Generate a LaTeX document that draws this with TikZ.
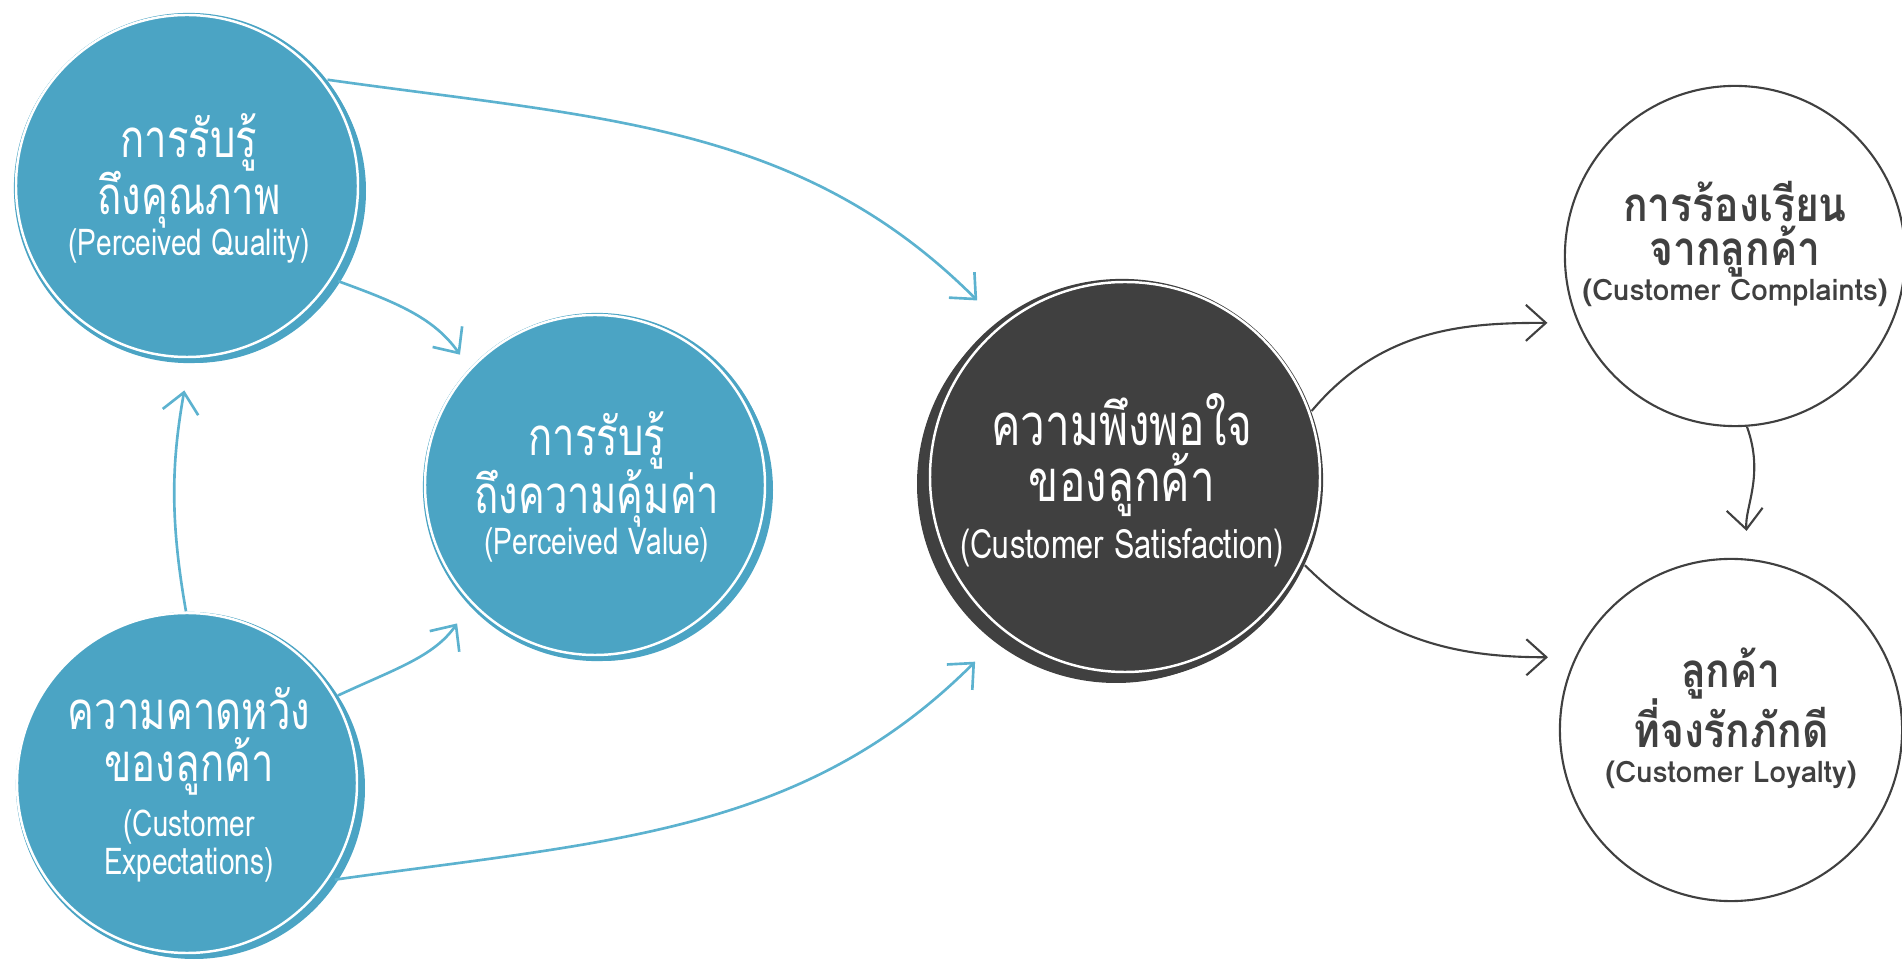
\documentclass[tikz,border=0pt]{standalone}
\usepackage{fontspec}
\setmainfont[Script=Thai]{Loma}
\newfontfamily\thcond[Script=Thai, FakeStretch=0.76]{Loma}
\newfontfamily\thmid[Script=Thai, FakeStretch=0.86]{Loma}
\usetikzlibrary{arrows.meta,calc}

\definecolor{qblue}{RGB}{75,164,196}
\definecolor{ablue}{RGB}{92,178,207}
\definecolor{sdark}{RGB}{64,64,64}
\newcommand{\en}[1]{{\fontsize{10.5}{10}\selectfont #1}}
\newcommand{\enr}[1]{{\rmfamily\fontsize{8.4}{10}\selectfont #1}}

\tikzset{
  bluecirc/.style={circle, fill=qblue, text=white, align=center, inner sep=0pt,
    font=\thcond\fontsize{15}{13.2}\selectfont},
  darkcirc/.style={circle, fill=sdark, text=white, align=center, inner sep=0pt,
    font=\thcond\fontsize{16.5}{14.5}\selectfont},
  outcirc/.style={circle, draw=sdark, line width=0.6pt, fill=white, text=sdark,
    align=center, inner sep=0pt, font=\thmid\bfseries\fontsize{13.5}{12.5}\selectfont},
  bluearrow/.style={-{Straight Barb[length=2mm,width=3.6mm]}, draw=ablue, line width=0.75pt},
  darkarrow/.style={-{Straight Barb[length=2mm,width=3.6mm]}, draw=sdark, line width=0.6pt}
}

\begin{document}
\lineskip=0pt\relax
\lineskiplimit=-3pt\relax
\begin{tikzpicture}[x=0.01cm, y=0.01cm]
  \useasboundingbox (0,0) rectangle (1902,960);

  % centres
  \coordinate (cq) at (189,772);
  \coordinate (cv) at (597,473);
  \coordinate (ce) at (189,175);
  \coordinate (cs) at (1122,480);

  % rough double edge behind the filled circles
  \fill[qblue] ($(cq)+(5,-3)$) circle[radius=172];
  \fill[qblue] ($(cv)+(5,-3)$) circle[radius=171];
  \fill[qblue] ($(ce)+(5,-3)$) circle[radius=171];
  \fill[sdark] ($(cs)+(-6,-4)$) circle[radius=199];

  \node[bluecirc, minimum size=3.5cm] (qual) at (cq)
    {การรับรู้\\ถึงคุณภาพ\\[-1.5pt]\en{(Perceived Quality)}};
  \node[bluecirc, minimum size=3.48cm] (value) at (cv)
    {การรับรู้\\ถึงความคุ้มค่า\\[-1.5pt]\en{(Perceived Value)}};
  \node[bluecirc, minimum size=3.46cm] (expect) at (ce)
    {ความคาดหวัง\\[1.5pt]ของลูกค้า\\[2.5pt]\en{(Customer}\\[-2.5pt]\en{Expectations)}};
  \node[darkcirc, minimum size=4.02cm] (satis) at (cs)
    {ความพึงพอใจ\\[1.5pt]ของลูกค้า\\[1.5pt]{\fontsize{11.5}{11}\selectfont (Customer Satisfaction)}};
  \node[outcirc, minimum size=3.4cm] (compl) at (1735,704)
    {การร้องเรียน\\จากลูกค้า\\[-2.5pt]\enr{(Customer Complaints)}\\[-4pt]};
  \node[outcirc, minimum size=3.42cm] (loyal) at (1731,230)
    {ลูกค้า\\ที่จงรักภักดี\\[-2.5pt]\enr{(Customer Loyalty)}\\[-4pt]};

  % thin white sketch lines
  \foreach \n/\r in {qual/171, value/170, expect/170}
    \draw[white, line width=0.7pt] ($(\n)+(-2,2)$) circle[radius=\r];
  \draw[white, line width=0.7pt] ($(satis)+(3,3)$) circle[radius=195];

  % blue connectors
  \draw[bluearrow, shorten >=0.29cm] (qual.38) to[out=-8, in=135] (satis.128);
  \draw[bluearrow, shorten >=0.16cm] (qual.-32) to[out=-20, in=125] (value.137);
  \draw[bluearrow, shorten >=0.27cm] (expect.91) to[out=100, in=-100] (qual.270);
  \draw[bluearrow, shorten >=0.21cm] (expect.31) to[out=25, in=235] (value.223);
  \draw[bluearrow, shorten >=0.32cm] (expect.-33) to[out=8, in=225] (satis.232);

  % dark connectors
  \draw[darkarrow, shorten >=0.30cm] (satis.20) to[out=50, in=180] (compl.203);
  \draw[darkarrow, shorten >=0.27cm] (satis.-25) to[out=-45, in=180] (loyal.155);
  \draw[darkarrow, shorten >=0.28cm] (compl.-86) to[out=-70, in=95] (loyal.84);
\end{tikzpicture}
\end{document}
